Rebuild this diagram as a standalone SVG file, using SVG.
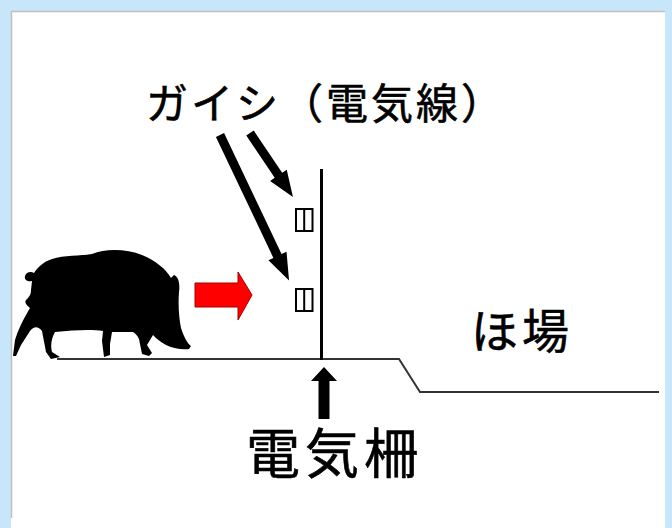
<svg xmlns="http://www.w3.org/2000/svg" width="672" height="528" viewBox="0 0 672 528">
  <style>
    .jp { font-family: "Noto Sans CJK JP", "Noto Sans CJK SC", sans-serif; fill: #000; stroke: #000; stroke-width: 0.6; }
    .ground { fill: none; stroke: #333; stroke-width: 2; }
    .insulator { fill: #fff; stroke: #000; stroke-width: 2; }
  </style>

  <!-- page background and white panel -->
  <rect x="0" y="0" width="672" height="528" fill="#c8e6fa"/>
  <rect x="11" y="11" width="654" height="517" fill="#fff"/>
  <line x1="11" y1="11.5" x2="665" y2="11.5" stroke="#bfbfbf" stroke-width="1.5"/>
  <line x1="11.5" y1="11" x2="11.5" y2="518" stroke="#bfbfbf" stroke-width="1.5"/>

  <!-- ground profile: level ground, slope down to the field -->
  <g id="ground">
    <polyline class="ground" points="57,359 399,359 420,392 659,392"/>
  </g>

  <!-- wild boar silhouette -->
  <g id="boar">
    <path fill="#000" d="M13,356 L15,340 C18,330 22,322 26,315 L30,308 C27,305 24,303 26,300 C29,297 31,295 31,290 L32,281
      C28,282 24,280 25,276 C26,272 31,271 34,273 C38,267 43,262 52,259 C64,255 80,256 92,254
      C106,248 127,249 142,255 C156,261 166,269 171,278 L174,275 C179,277 180,285 179,292
      C178,305 179,318 181,328 C184,337 187,343 191,346 L189,349 C181,350 172,348 166,345
      C160,342 156,338 153,335 L147,345 L152,353 L149,356 L142,354 L139,339 C137,335 135,333 133,332
      L112,332 L110,344 L110,355 L104,357 L102,341 L103,331 C92,329 74,330 55,332
      C52,337 50,345 52,352 L60,357 L51,359 L46,352 L42,331 C38,326 34,326 30,331 L21,345 L16,356 Z"/>
  </g>

  <!-- red arrow: direction of approach -->
  <g id="approach-arrow">
    <polygon points="195,283 238,283 238,272 252,295 238,320 238,307 195,307" fill="#ff0000" stroke="#a00000" stroke-width="1"/>
  </g>

  <!-- fence post with insulators -->
  <g id="fence">
    <line x1="321.5" y1="169" x2="321.5" y2="360" stroke="#000" stroke-width="3"/>
    <rect class="insulator" x="296" y="209" width="16.5" height="22"/>
    <line x1="304.2" y1="209" x2="304.2" y2="231" stroke="#000" stroke-width="2"/>
    <rect class="insulator" x="296" y="289" width="16.5" height="22"/>
    <line x1="304.2" y1="289" x2="304.2" y2="311" stroke="#000" stroke-width="2"/>
  </g>

  <!-- pointers to the insulators and the post -->
  <g id="connectors" fill="#000">
    <polygon transform="translate(220,135) rotate(64.6)" points="0,-4.5 134,-4.5 134,-10 161,0 134,10 134,4.5 0,4.5"/>
    <polygon transform="translate(250,133) rotate(56.1)" points="0,-4.5 51,-4.5 51,-10 77,0 51,10 51,4.5 0,4.5"/>
    <polygon points="318.5,419 318.5,381 311,381 324,367 337,381 329.5,381 329.5,419"/>
  </g>

  <!-- labels -->
  <g id="label-insulator">
    <text class="jp" x="146" y="119" font-size="42" letter-spacing="3">ガイシ（電気線）</text>
  </g>
  <g id="label-fence">
    <text class="jp" x="246" y="474" font-size="54" letter-spacing="5">電気柵</text>
  </g>
  <g id="label-field">
    <text class="jp" x="471" y="348" font-size="47" letter-spacing="4">ほ場</text>
  </g>
</svg>
